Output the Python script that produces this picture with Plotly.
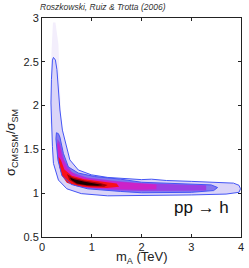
import plotly.graph_objects as go

# ---- data (m_A in TeV, sigma ratio) ----
tail_x = [0.17, 0.19, 0.22, 0.27, 0.33, 0.38, 0.36, 0.30, 0.22]
tail_y = [1.80, 2.60, 2.95, 2.95, 2.70, 1.90, 1.75, 1.70, 1.72]

outerA_x = [0.23, 0.27, 0.30, 0.33, 0.36, 0.41, 0.46, 0.56, 0.73, 0.99, 1.32, 1.60, 2.00, 2.20, 2.50,
            3.00, 3.50, 3.85, 3.96, 3.99, 3.96, 3.70, 3.00, 2.00, 1.32, 0.79, 0.50, 0.33, 0.23, 0.21,
            0.20, 0.18, 0.19, 0.20, 0.21, 0.23]
outerA_y = [2.55, 2.52, 2.41, 2.18, 1.95, 1.72, 1.61, 1.38, 1.265, 1.21, 1.18, 1.17, 1.155, 1.16, 1.145,
            1.135, 1.125, 1.115, 1.09, 1.05, 1.01, 0.99, 0.98, 0.975, 0.97, 0.995, 1.05, 1.15, 1.34, 1.53,
            1.72, 2.03, 2.30, 2.45, 2.52, 2.55]

innerB_x = [0.29, 0.33, 0.36, 0.43, 0.53, 0.73, 1.06, 1.58, 2.00, 2.50, 3.00, 3.40, 3.53, 3.45, 3.00,
            2.50, 2.00, 1.58, 0.92, 0.59, 0.40, 0.32, 0.30, 0.28, 0.29]
innerB_y = [1.69, 1.68, 1.64, 1.455, 1.30, 1.23, 1.19, 1.16, 1.125, 1.115, 1.105, 1.095, 1.065, 1.03, 1.01,
            1.005, 1.005, 1.02, 1.05, 1.10, 1.20, 1.38, 1.50, 1.62, 1.69]

purple_x = [0.31, 0.36, 0.45, 0.60, 0.90, 1.40, 2.00, 2.80, 3.30, 3.30, 2.80, 2.00, 1.40, 0.90, 0.60,
            0.42, 0.33, 0.30]
purple_y = [1.62, 1.58, 1.38, 1.24, 1.18, 1.145, 1.115, 1.10, 1.09, 1.03, 1.025, 1.025, 1.035, 1.06, 1.10,
            1.20, 1.36, 1.50]

magenta_x = [0.31, 0.35, 0.40, 0.50, 0.70, 1.00, 1.50, 2.00, 2.30, 2.30, 2.00, 1.50, 1.00, 0.65, 0.45,
             0.35, 0.31]
magenta_y = [1.58, 1.55, 1.42, 1.28, 1.20, 1.16, 1.13, 1.11, 1.10, 1.045, 1.04, 1.045, 1.06, 1.09, 1.17,
             1.30, 1.45]

red_x = [0.33, 0.38, 0.45, 0.60, 0.85, 1.20, 1.50, 1.55, 1.30, 1.00, 0.70, 0.50, 0.40, 0.35]
red_y = [1.42, 1.38, 1.27, 1.20, 1.16, 1.13, 1.11, 1.075, 1.06, 1.065, 1.08, 1.12, 1.20, 1.30]

dark_x = [0.50, 0.62, 0.85, 1.15, 1.32, 1.25, 0.95, 0.70, 0.55]
dark_y = [1.22, 1.18, 1.145, 1.12, 1.095, 1.075, 1.08, 1.10, 1.15]

black_x = [0.56, 0.66, 0.86, 1.12, 1.22, 1.12, 0.90, 0.70, 0.59]
black_y = [1.18, 1.155, 1.13, 1.11, 1.095, 1.085, 1.09, 1.11, 1.15]

x_ticks = [0, 1, 2, 3, 4]
y_ticks = [0.5, 1, 1.5, 2, 2.5, 3]
y_tick_text = ["0.5", "1", "1.5", "2", "2.5", "3"]

fig = go.Figure()

def fill(xs, ys, color):
    fig.add_trace(go.Scatter(x=xs, y=ys, mode="lines", fill="toself", fillcolor=color,
                             line=dict(width=0, color=color), hoverinfo="skip", showlegend=False))

def outline(xs, ys):
    fig.add_trace(go.Scatter(x=xs, y=ys, mode="lines", line=dict(color="#4455f5", width=1),
                             hoverinfo="skip", showlegend=False))

fill(tail_x, tail_y, "#f3eefc")
fill(outerA_x, outerA_y, "#dad4f8")
fill(innerB_x, innerB_y, "#8478ee")
fill(purple_x, purple_y, "#9a40e4")
fill(magenta_x, magenta_y, "#cc22c8")
fill(red_x, red_y, "#f8101a")
fill(dark_x, dark_y, "#a00008")
fill(black_x, black_y, "#1a0000")
outline(outerA_x, outerA_y)
outline(innerB_x, innerB_y)

fig.update_layout(
    width=249, height=268,
    margin=dict(l=42, r=5, t=18, b=31),
    paper_bgcolor="white", plot_bgcolor="white",
    font=dict(family="Liberation Sans, Arial, sans-serif", color="#222"),
    xaxis=dict(range=[0, 4], tickvals=x_ticks, ticks="inside", ticklen=3, tickcolor="#222",
               showline=True, linecolor="#222", linewidth=1, mirror="ticks", showgrid=False,
               zeroline=False, tickfont=dict(size=11), fixedrange=True),
    yaxis=dict(range=[0.5, 3], tickvals=y_ticks, ticktext=y_tick_text, ticks="inside", ticklen=3,
               tickcolor="#222", showline=True, linecolor="#222", linewidth=1, mirror="ticks",
               showgrid=False, zeroline=False, tickfont=dict(size=11), fixedrange=True),
    annotations=[
        dict(text="<i>Roszkowski, Ruiz &amp; Trotta (2006)</i>", xref="paper", yref="paper",
             x=-0.02, y=1.05, xanchor="left", yanchor="middle", showarrow=False,
             font=dict(size=8.5, color="#333")),
        dict(text="pp → h", x=3.2, y=0.84, xanchor="center", yanchor="middle", showarrow=False,
             font=dict(size=17, color="#111")),
        dict(text="m<sub>A</sub> (TeV)", xref="paper", yref="paper", x=0.5, y=-0.093,
             xanchor="center", yanchor="middle", showarrow=False, font=dict(size=13)),
        dict(text="σ<sub>CMSSM</sub>/σ<sub>SM</sub>", xref="paper", yref="paper", x=-0.15, y=0.43,
             xanchor="center", yanchor="middle", textangle=-90, showarrow=False, font=dict(size=13)),
    ],
)

fig.write_html("out.html", config={"displayModeBar": False, "staticPlot": True},
               post_script="document.body.style.margin='0';document.body.style.overflow='hidden';")
